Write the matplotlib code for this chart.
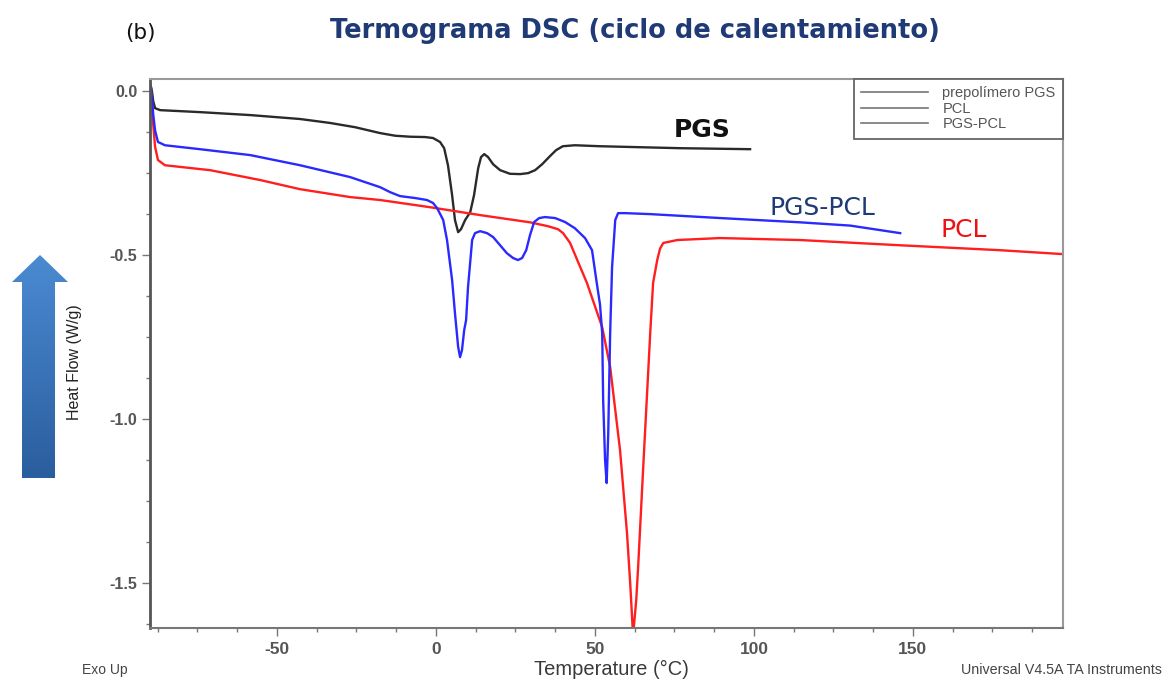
import numpy as np
import matplotlib
matplotlib.use("Agg")
import matplotlib.pyplot as plt
from matplotlib.lines import Line2D
from matplotlib.patches import Polygon
from matplotlib.colors import LinearSegmentedColormap

# ---------------- data ----------------
pgs_T = [-89.7, -89.3, -88.9, -88.3, -86.7, -74.2, -58.4, -42.7, -33.3, -25.4, -17.5, -12.8, -8.1,
         -3.4, -0.9, 1.3, 2.6, 3.8, 5.1, 6.0, 7.0, 7.9, 9.2, 10.8, 12.0, 13.3, 14.2, 15.2,
         16.4, 18.0, 20.2, 23.3, 26.5, 29.0, 31.2, 33.4, 35.9, 37.8, 39.9, 43.7, 51.6, 76.9, 98.8]
pgs_H = [0.018, 0.0, -0.03, -0.052, -0.058, -0.064, -0.073, -0.085, -0.097, -0.110, -0.128, -0.136, -0.139,
         -0.140, -0.143, -0.155, -0.174, -0.226, -0.317, -0.393, -0.430, -0.421, -0.393, -0.369, -0.317, -0.235, -0.201, -0.192,
         -0.201, -0.223, -0.241, -0.252, -0.253, -0.250, -0.241, -0.223, -0.198, -0.180, -0.168, -0.165, -0.168, -0.174, -0.177]

mix_T = [-89.7, -89.3, -88.9, -88.3, -87.4, -85.2, -74.2, -58.4, -42.7, -27.0, -17.5, -14.4, -11.3,
         -6.5, -2.8, -0.9, 0.4, 2.3, 3.5, 5.1, 6.0, 7.0, 7.6, 8.2, 8.9, 9.5, 10.1, 11.4, 12.3,
         13.9, 16.1, 18.0, 20.2, 22.3, 24.3, 25.8, 27.1, 28.4, 29.6, 30.9, 32.5, 34.3, 37.5,
         40.6, 43.7, 46.9, 49.1, 50.6, 51.6, 52.3, 52.6, 53.2, 53.7, 54.2, 54.8, 55.4, 56.4,
         57.3, 59.5, 67.4, 89.4, 114.5, 130.3, 146.0]
mix_H = [0.018, -0.02, -0.07, -0.120, -0.155, -0.165, -0.177, -0.195, -0.226, -0.262, -0.293, -0.308, -0.320,
         -0.326, -0.332, -0.341, -0.357, -0.393, -0.454, -0.576, -0.677, -0.780, -0.811, -0.790, -0.729, -0.698, -0.598, -0.454, -0.433,
         -0.427, -0.433, -0.445, -0.470, -0.494, -0.509, -0.515, -0.509, -0.485, -0.439, -0.399, -0.387, -0.384, -0.387,
         -0.399, -0.418, -0.448, -0.485, -0.586, -0.650, -0.738, -0.942, -1.125, -1.195, -1.043, -0.738, -0.537, -0.393,
         -0.372, -0.372, -0.375, -0.387, -0.400, -0.410, -0.433]

pcl_T = [-89.7, -89.3, -88.9, -88.3, -87.4, -85.2, -71.0, -55.3, -42.7, -27.0, -17.5, -1.8, 13.9,
         29.6, 35.3, 38.4, 40.0, 42.2, 47.5, 52.3, 54.8, 57.9, 60.1, 61.1, 62.0, 63.0, 63.6,
         65.2, 67.4, 68.3, 69.6, 70.5, 71.5, 75.9, 89.4, 114.5, 146.0, 177.4, 197.2]
pcl_H = [0.018, -0.03, -0.10, -0.170, -0.210, -0.226, -0.241, -0.271, -0.299, -0.323, -0.332, -0.354, -0.378,
         -0.400, -0.412, -0.421, -0.433, -0.463, -0.585, -0.720, -0.841, -1.094, -1.348, -1.500, -1.660, -1.552, -1.451,
         -1.146, -0.738, -0.585, -0.515, -0.480, -0.463, -0.454, -0.448, -0.454, -0.470, -0.485, -0.497]

legend_labels = ["prepolímero PGS", "PCL", "PGS-PCL"]
x_major = [-50, 0, 50, 100, 150]
y_major = [0.0, -0.5, -1.0, -1.5]

# ---------------- figure ----------------
W, H = 1164, 679
fig = plt.figure(figsize=(W / 100, H / 100), dpi=100)
ax = fig.add_axes([150 / W, 1 - 628 / H, (1063 - 150) / W, (628 - 79) / H])

ax.plot(pgs_T, pgs_H, color="#2a2a2a", lw=1.7)
ax.plot(pcl_T, pcl_H, color="#ff1f1f", lw=1.7)
ax.plot(mix_T, mix_H, color="#2a2aff", lw=1.7)

ax.set_xlim(-89.9, 197.2)
ax.set_ylim(-1.637, 0.037)

ax.set_xticks(x_major)
ax.set_xticklabels([str(v) for v in x_major])
ax.set_xticks(np.arange(-87.5, 197, 12.5), minor=True)
ax.set_yticks(y_major)
ax.set_yticklabels(["%.1f" % v for v in y_major])
ax.set_yticks(np.arange(-1.625, 0.03, 0.125), minor=True)
ax.tick_params(axis="both", which="major", length=6, width=1, color="#777777",
               labelcolor="#555555", direction="out")
ax.tick_params(axis="x", which="major", labelsize=12.5, pad=4)
ax.tick_params(axis="y", which="major", labelsize=11.5, pad=3)
ax.tick_params(axis="both", which="minor", length=3, width=1, color="#777777", direction="out")
for lab in ax.get_xticklabels() + ax.get_yticklabels():
    lab.set_fontweight("bold")
    lab.set_fontfamily("Liberation Sans")

for s in ["top", "right"]:
    ax.spines[s].set_color("#999999")
    ax.spines[s].set_linewidth(1.5)
ax.spines["left"].set_color("#555555")
ax.spines["left"].set_linewidth(2.0)
ax.spines["bottom"].set_color("#777777")
ax.spines["bottom"].set_linewidth(1.5)

# legend with grey line samples
handles = [Line2D([0], [0], color="#777777", lw=1.2) for _ in legend_labels]
leg = ax.legend(handles, legend_labels, loc="upper right", borderaxespad=0.0,
                fancybox=False, edgecolor="#666666", framealpha=1,
                prop={"family": "Liberation Sans", "size": 10.5}, handlelength=4.6,
                handletextpad=1.0, labelspacing=0.1, borderpad=0.5)
for t in leg.get_texts():
    t.set_color("#555555")
leg.get_frame().set_linewidth(1.3)

# curve labels
fig.text(702 / W, 1 - 130 / H, "PGS", color="#111111", ha="center", va="center",
         family="DejaVu Sans", weight="bold", size=18)
fig.text(822 / W, 1 - 208 / H, "PGS-PCL", color="#1f3a75", ha="center", va="center",
         family="DejaVu Sans", size=18)
fig.text(964 / W, 1 - 230 / H, "PCL", color="#ee1111", ha="center", va="center",
         family="DejaVu Sans", size=18)

# titles and texts
fig.text(140 / W, 1 - 33 / H, "(b)", color="#111111", ha="center", va="center", size=15.5,
         family="DejaVu Sans")
fig.text(635 / W, 1 - 31 / H, "Termograma DSC (ciclo de calentamiento)", color="#1f3a75",
         ha="center", va="center", size=18.5, weight="bold", family="DejaVu Sans")
fig.text(611 / W, 1 - 669 / H, "Temperature (°C)", color="#3a3a3a", ha="center", va="center",
         size=14.5, family="Liberation Sans")
fig.text(74 / W, 1 - 362 / H, "Heat Flow (W/g)", color="#222222", ha="center", va="center",
         size=11.5, rotation=90, family="Liberation Sans")
fig.text(105 / W, 1 - 670 / H, "Exo Up", color="#444444", ha="center", va="center",
         size=10, family="Liberation Sans")
fig.text(1162 / W, 1 - 670 / H, "Universal V4.5A TA Instruments", color="#444444",
         ha="right", va="center", size=10.3, family="Liberation Sans")

# gradient arrow on the left
oax = fig.add_axes([0, 0, 1, 1], zorder=-1)
oax.axis("off")
arrow_pts = [(40, 255), (68, 282), (55, 282), (55, 478), (22, 478), (22, 282), (12, 282)]
poly = Polygon(arrow_pts, closed=True, facecolor="none", edgecolor="none")
oax.add_patch(poly)
grad = np.linspace(0, 1, 256).reshape(-1, 1)
cmap = LinearSegmentedColormap.from_list("arr", ["#4b8ad2", "#2a5e9e"])
im = oax.imshow(grad, cmap=cmap, extent=[12, 68, 478, 255], aspect="auto", origin="upper")
im.set_clip_path(poly)
oax.set_xlim(0, W)
oax.set_ylim(H, 0)

fig.savefig("out.png", dpi=100)
